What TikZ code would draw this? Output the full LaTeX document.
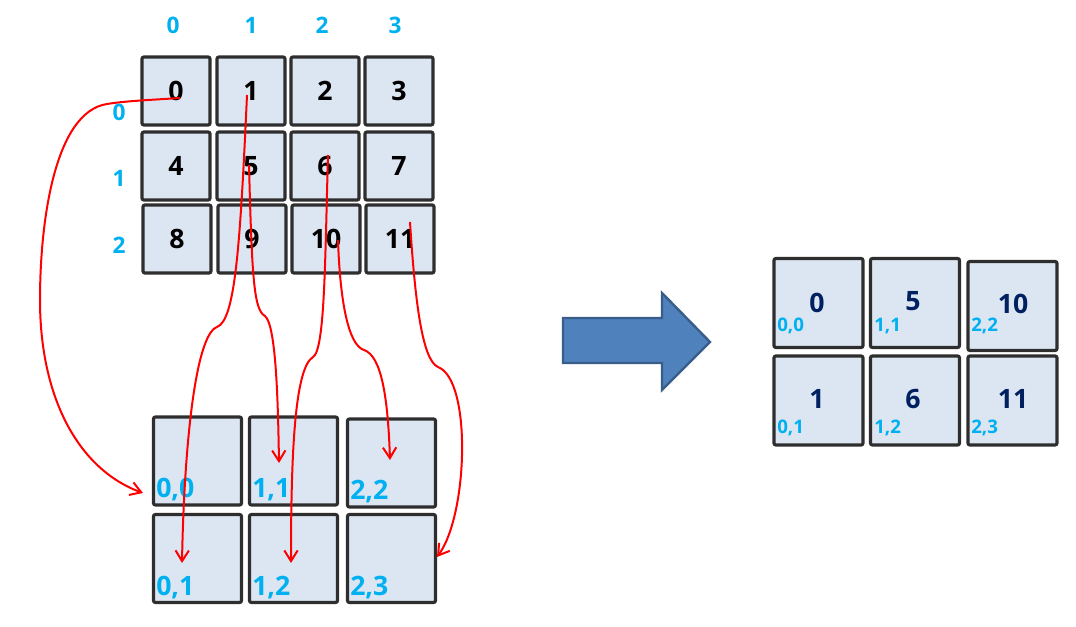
\documentclass[tikz,border=0pt]{standalone}
\usepackage{fontspec}
\setmainfont{Open Sans}
\usetikzlibrary{arrows.meta}
\definecolor{cy}{HTML}{00B0F0}
\definecolor{navy}{HTML}{002060}
\definecolor{cellfill}{HTML}{DCE6F2}
\definecolor{cellline}{HTML}{2E2E2E}
\definecolor{arrfill}{HTML}{4F81BD}
\definecolor{arrline}{HTML}{385D8A}
\tikzset{
  cell/.style={draw=cellline, fill=cellfill, line width=2.4pt, rounded corners=1.5pt, inner sep=0pt},
  topcell/.style={cell, minimum width=68*0.75pt, minimum height=68*0.75pt, font=\fontsize{20}{20}\selectfont\bfseries},
  botcell/.style={cell, minimum width=88*0.75pt, minimum height=88*0.75pt},
  rcell/.style={cell, minimum width=89*0.75pt, minimum height=89*0.75pt},
  idx/.style={text=cy, font=\fontsize{17}{17}\selectfont\bfseries, inner sep=0pt},
  blab/.style={text=cy, font=\fontsize{20}{20}\selectfont\bfseries, inner sep=0pt, anchor=south west},
  rnum/.style={text=navy, font=\fontsize{20}{20}\selectfont\bfseries, inner sep=0pt},
  rlab/.style={text=cy, font=\fontsize{14}{14}\selectfont\bfseries, inner sep=0pt, anchor=west},
  link/.style={draw=red, line width=1.5pt, -{Straight Barb[length=8pt,width=10pt]}},
}
\begin{document}
\begin{tikzpicture}[x=0.75pt,y=-0.75pt]
\useasboundingbox (0,0) rectangle (1076,627);
% column / row indices
\node[idx] (c0) at (173,25) {0};
\node[idx] (c1) at (251,25) {1};
\node[idx] (c2) at (322,25) {2};
\node[idx] (c3) at (395,25) {3};
\node[idx] (r0) at (119,112) {0};
\node[idx] (r1) at (119,178) {1};
\node[idx] (r2) at (119,245) {2};
% top grid
\node[topcell] (t0) at (176,91) {0};
\node[topcell] (t1) at (251,91) {1};
\node[topcell] (t2) at (325,91) {2};
\node[topcell] (t3) at (399,91) {3};
\node[topcell] (t4) at (176,166) {4};
\node[topcell] (t5) at (251,166) {5};
\node[topcell] (t6) at (325,166) {6};
\node[topcell] (t7) at (399,166) {7};
\node[topcell] (t8) at (177,239) {8};
\node[topcell] (t9) at (252,239) {9};
\node[topcell] (t10) at (326,239) {10};
\node[topcell] (t11) at (400,239) {11};
% bottom grid
\node[botcell] (b00) at (197.5,461) {};
\node[botcell] (b11) at (293.5,461) {};
\node[botcell] (b22) at (391.5,463) {};
\node[botcell] (b01) at (197.5,558.5) {};
\node[botcell] (b12) at (293.5,558.5) {};
\node[botcell] (b23) at (391.5,558.5) {};
\node[blab] (l00) at (156,501) {0,0};
\node[blab] (l11) at (252,501) {1,1};
\node[blab] (l22) at (350,503) {2,2};
\node[blab] (l01) at (156,599) {0,1};
\node[blab] (l12) at (252,599) {1,2};
\node[blab] (l23) at (350,599) {2,3};
% red links
\draw[link] ([shift={(4,7)}]t0.center) .. controls (150,100) and (125,101) .. (107,104)
   .. controls (55,112) and (40,220) .. (40,300)
   .. controls (40,400) and (80,470) .. ([shift={(-54.5,32)}]b00.center);
\draw[link] ([shift={(-4,4)}]t1.center) .. controls (240,250) and (235,320) .. (217,327)
   .. controls (195,335) and (184,450) .. ([shift={(-15.5,4.5)}]b01.center);
\draw[link] ([shift={(-2,-1)}]t5.center) .. controls (252,280) and (254,310) .. (265,316)
   .. controls (276,325) and (278,400) .. ([shift={(-14.5,2)}]b11.center);
\draw[link] ([shift={(3,-11)}]t6.center) .. controls (325,260) and (325,350) .. (313,357)
   .. controls (295,368) and (291,450) .. ([shift={(-2.5,4.5)}]b12.center);
\draw[link] ([shift={(12,1)}]t10.center) .. controls (340,300) and (348,345) .. (364,350)
   .. controls (382,356) and (388,400) .. ([shift={(-1.5,-3)}]b22.center);
\draw[link] ([shift={(10,-17)}]t11.center) .. controls (415,300) and (422,360) .. (438,367)
   .. controls (472,380) and (468,515) .. ([shift={(45.5,-1.5)}]b23.center);
% big arrow
\draw[draw=arrline, fill=arrfill, line width=1.8pt, line join=miter]
  (563,318) -- (662,318) -- (662,293) -- (710,342) -- (662,390) -- (662,363) -- (563,363) -- cycle;
% right grid
\node[rcell] (q00) at (818.5,303) {};
\node[rcell] (q11) at (915,303) {};
\node[rcell] (q22) at (1012.5,306) {};
\node[rcell] (q01) at (818.5,400.5) {};
\node[rcell] (q12) at (915,400.5) {};
\node[rcell] (q23) at (1012.5,400.5) {};
\node[rnum] (n0) at (817,303) {0};
\node[rnum] (n5) at (913,301) {5};
\node[rnum] (n10) at (1013,304) {10};
\node[rnum] (n1) at (817,399) {1};
\node[rnum] (n6) at (913,399) {6};
\node[rnum] (n11) at (1013,399) {11};
\node[rlab] (m00) at (777,326) {0,0};
\node[rlab] (m11) at (874,326) {1,1};
\node[rlab] (m22) at (971,326) {2,2};
\node[rlab] (m01) at (777,428) {0,1};
\node[rlab] (m12) at (874,428) {1,2};
\node[rlab] (m23) at (971,428) {2,3};
\end{tikzpicture}
\end{document}
